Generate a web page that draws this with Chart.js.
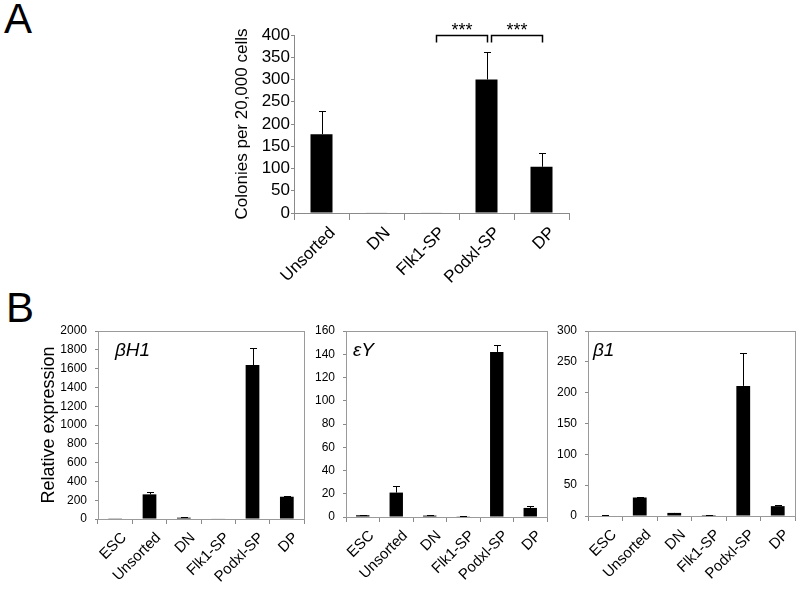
<!DOCTYPE html>
<html>
<head>
<meta charset="utf-8">
<script src="https://cdn.jsdelivr.net/npm/chart.js@4/dist/chart.umd.min.js"></script>
<style>
    html, body { margin: 0; padding: 0; background: #fff; }
    #fig { position: relative; width: 800px; height: 593px; overflow: hidden; font-family: 'Liberation Sans', Arial, sans-serif; }
    #fig canvas { position: absolute; }
    .panel-letter { position: absolute; font-size: 42px; line-height: 1; color: #000; }
</style>
</head>
<body>
<div id="fig">
    <div class="panel-letter" style="left:4px; top:-2px;">A</div>
    <div class="panel-letter" style="left:6px; top:287px;">B</div>
    <canvas id="chartA" width="380" height="320" style="left:220px; top:5px;"></canvas>
    <canvas id="chartB1" width="310" height="273" style="left:0px; top:320px;"></canvas>
    <canvas id="chartB2" width="250" height="273" style="left:300px; top:320px;"></canvas>
    <canvas id="chartB3" width="255" height="273" style="left:545px; top:320px;"></canvas>
</div>
<script>
// panel A - colony counts
const sortedPops = ['Unsorted', 'DN', 'Flk1-SP', 'Podxl-SP', 'DP'];
const colonies = [177, 1, 1, 300, 104];
const coloniesErr = [53, 0, 0, 61, 31];
const coloniesTicks = [0, 50, 100, 150, 200, 250, 300, 350, 400];

// panel B - relative expression
const exprPops = ['ESC', 'Unsorted', 'DN', 'Flk1-SP', 'Podxl-SP', 'DP'];
const betaH1 = [3, 262, 14, 6, 1638, 237];
const betaH1Err = [0, 28, 2, 0, 178, 4];
const epsilonY = [1.5, 21, 1.2, 0.6, 142, 7.8];
const epsilonYErr = [0.3, 5.7, 0.3, 0.2, 6, 1.9];
const beta1 = [0.8, 30, 5, 1.5, 211, 16];
const beta1Err = [0.2, 1, 0.5, 0.3, 54, 2.5];

const FONT = "'Liberation Sans', Arial, sans-serif";

const errorBars = {
    id: 'errorBars',
    afterDatasetsDraw(chart, args, opts) {
        const errs = opts.errors;
        if (!errs) return;
        const ctx = chart.ctx;
        const yScale = chart.scales.y;
        const values = chart.data.datasets[0].data;
        ctx.save();
        ctx.strokeStyle = '#000';
        ctx.lineWidth = 1;
        chart.getDatasetMeta(0).data.forEach((bar, i) => {
            if (!errs[i]) return;
            const x = Math.round(bar.x) + 0.5;
            const y0 = yScale.getPixelForValue(values[i]);
            const y1 = Math.round(yScale.getPixelForValue(values[i] + errs[i])) + 0.5;
            ctx.beginPath();
            ctx.moveTo(x, y0);
            ctx.lineTo(x, y1);
            ctx.moveTo(x - 3.5, y1);
            ctx.lineTo(x + 3.5, y1);
            ctx.stroke();
        });
        ctx.restore();
    }
};

const frameBox = {
    id: 'frameBox',
    afterDraw(chart, args, opts) {
        if (!opts.show) return;
        const a = chart.chartArea;
        const ctx = chart.ctx;
        ctx.save();
        ctx.strokeStyle = '#9a9a9a';
        ctx.lineWidth = 1;
        ctx.strokeRect(Math.round(a.left) + 0.5, Math.round(a.top) + 0.5,
            Math.round(a.right - a.left), Math.round(a.bottom - a.top));
        ctx.restore();
    }
};

const geneLabel = {
    id: 'geneLabel',
    afterDraw(chart, args, opts) {
        if (!opts.text) return;
        const a = chart.chartArea;
        const ctx = chart.ctx;
        ctx.save();
        ctx.font = 'italic 19px ' + FONT;
        ctx.fillStyle = '#000';
        ctx.textBaseline = 'top';
        ctx.fillText(opts.text, a.left + opts.dx, a.top + 10);
        ctx.restore();
    }
};

const sigBrackets = {
    id: 'sigBrackets',
    afterDraw(chart, args, opts) {
        if (!opts.pairs) return;
        const ctx = chart.ctx;
        const xs = chart.scales.x;
        const top = Math.round(chart.scales.y.getPixelForValue(400)) + 0.5;
        ctx.save();
        ctx.strokeStyle = '#000';
        ctx.lineWidth = 1.5;
        ctx.fillStyle = '#000';
        ctx.font = '18px ' + FONT;
        ctx.textAlign = 'center';
        ctx.textBaseline = 'alphabetic';
        opts.pairs.forEach(p => {
            const x0 = xs.getPixelForValue(p[0]) + 5;
            const x1 = xs.getPixelForValue(p[1]) + 1;
            ctx.beginPath();
            ctx.moveTo(x0, top + 7);
            ctx.lineTo(x0, top);
            ctx.lineTo(x1, top);
            ctx.lineTo(x1, top + 7);
            ctx.stroke();
            ctx.fillText('***', (x0 + x1) / 2, top);
        });
        ctx.restore();
    }
};

function makeBarChart(id, cfg) {
    return new Chart(document.getElementById(id), {
        type: 'bar',
        data: {
            labels: cfg.labels,
            datasets: [{
                data: cfg.values,
                backgroundColor: '#000',
                borderWidth: 0,
                barPercentage: 0.4,
                categoryPercentage: 1
            }]
        },
        options: {
            responsive: false,
            animation: false,
            devicePixelRatio: 1,
            layout: { padding: { left: 0, top: cfg.padTop, right: cfg.padRight, bottom: 0 } },
            plugins: {
                legend: { display: false },
                tooltip: { enabled: false },
                errorBars: { errors: cfg.errors },
                frameBox: { show: cfg.frame },
                geneLabel: { text: cfg.gene, dx: cfg.geneDx },
                sigBrackets: { pairs: cfg.brackets }
            },
            scales: {
                x: {
                    grid: { display: true, drawOnChartArea: false, offset: true, tickLength: cfg.xTickLen, color: '#8a8a8a' },
                    border: { display: true, color: '#8a8a8a' },
                    ticks: {
                        color: '#000',
                        font: { family: FONT, size: cfg.xFont },
                        maxRotation: 45,
                        minRotation: 45,
                        autoSkip: false,
                        padding: cfg.xPad,
                        labelOffset: cfg.xShift
                    },
                    afterFit(scale) {
                        scale.height = cfg.xHeight;
                        scale.paddingLeft = 0;
                        scale.paddingRight = 0;
                    }
                },
                y: {
                    min: 0,
                    max: cfg.max,
                    grid: { display: true, drawOnChartArea: false, tickLength: 3, color: '#8a8a8a' },
                    border: { display: true, color: '#8a8a8a' },
                    ticks: {
                        color: '#000',
                        stepSize: cfg.step,
                        autoSkip: false,
                        callback: v => String(v),
                        font: { family: FONT, size: cfg.yFont },
                        padding: cfg.yPad
                    },
                    title: {
                        display: !!cfg.yTitle,
                        text: cfg.yTitle || '',
                        color: '#000',
                        font: { family: FONT, size: cfg.yTitleFont || 16 },
                        padding: { top: cfg.yTitlePad || 0, bottom: 0 }
                    },
                    afterFit(scale) {
                        scale.width = cfg.yWidth;
                        scale.paddingTop = 0;
                        scale.paddingBottom = 0;
                    }
                }
            }
        },
        plugins: [errorBars, frameBox, geneLabel, sigBrackets]
    });
}

makeBarChart('chartA', {
    labels: sortedPops,
    values: colonies,
    errors: coloniesErr,
    max: coloniesTicks[coloniesTicks.length - 1],
    step: coloniesTicks[1] - coloniesTicks[0],
    padTop: 30, padRight: 31,
    yWidth: 74, xHeight: 112,
    xFont: 17, yFont: 17, yPad: 1, xTickLen: 7, xPad: 3, xShift: 11,
    yTitle: 'Colonies per 20,000 cells', yTitleFont: 17, yTitlePad: 12,
    frame: false,
    brackets: [[2, 3], [3, 4]]
});

makeBarChart('chartB1', {
    labels: exprPops,
    values: betaH1,
    errors: betaH1Err,
    max: 2000, step: 200,
    padTop: 11, padRight: 6,
    yWidth: 98, xHeight: 74,
    xFont: 15, yFont: 12, yPad: 8, xTickLen: 5, xPad: 5, xShift: 9,
    yTitle: 'Relative expression', yTitleFont: 18, yTitlePad: 38,
    frame: true,
    gene: 'βH1', geneDx: 17
});

makeBarChart('chartB2', {
    labels: exprPops,
    values: epsilonY,
    errors: epsilonYErr,
    max: 160, step: 20,
    padTop: 11, padRight: 3,
    yWidth: 46, xHeight: 76,
    xFont: 15, yFont: 12, yPad: 8, xTickLen: 5, xPad: 5, xShift: 9,
    frame: true,
    gene: 'εY', geneDx: 7
});

makeBarChart('chartB3', {
    labels: exprPops,
    values: beta1,
    errors: beta1Err,
    max: 300, step: 50,
    padTop: 11, padRight: 5,
    yWidth: 43, xHeight: 77,
    xFont: 15, yFont: 12, yPad: 8, xTickLen: 5, xPad: 5, xShift: 9,
    frame: true,
    gene: 'β1', geneDx: 5
});
</script>
</body>
</html>
